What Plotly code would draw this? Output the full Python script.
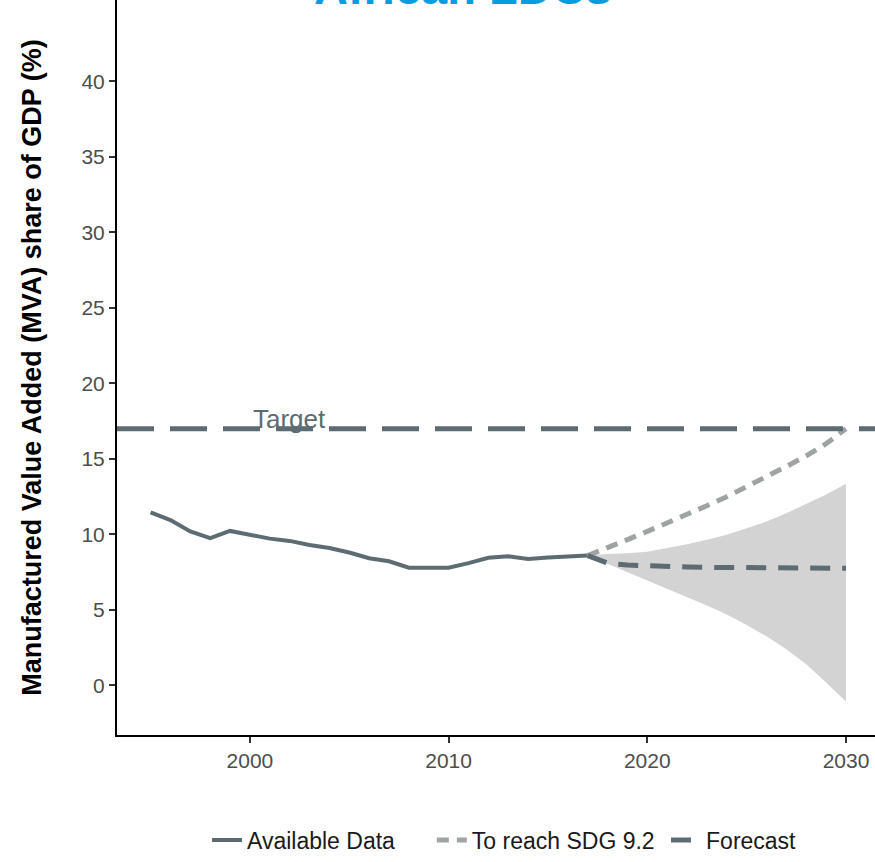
import plotly.graph_objects as go

# Observed manufacturing value added share of GDP (%)
hist_years = list(range(1995, 2018))
hist_mva = [11.46, 10.95, 10.20, 9.75, 10.23, 9.97, 9.72, 9.57, 9.30, 9.10,
            8.80, 8.42, 8.22, 7.80, 7.80, 7.80, 8.10, 8.45, 8.55, 8.38,
            8.47, 8.55, 8.60]

# Projection period
proj_years = list(range(2017, 2031))
forecast = [8.60, 8.10, 7.97, 7.90, 7.86, 7.84, 7.82, 7.80, 7.80, 7.79,
            7.78, 7.78, 7.77, 7.76]
forecast_upper = [8.60, 8.70, 8.75, 8.85, 9.10, 9.35, 9.65, 9.97, 10.40,
                  10.85, 11.40, 12.00, 12.65, 13.36]
forecast_lower = [8.60, 8.00, 7.50, 6.95, 6.40, 5.85, 5.30, 4.70, 4.00,
                  3.25, 2.40, 1.40, 0.20, -1.07]
sdg_path = [8.60, 9.10, 9.65, 10.20, 10.75, 11.30, 11.90, 12.50, 13.15,
            13.80, 14.50, 15.20, 16.00, 17.00]

TARGET = 17
x_ticks = [2000, 2010, 2020, 2030]
y_ticks = [0, 5, 10, 15, 20, 25, 30, 35, 40]

DARK = "#5d6c72"
LIGHT = "#9ea3a4"
BAND = "#d3d3d3"
FONT = "Liberation Sans, Arial, sans-serif"
NBSP = "\u00a0"

fig = go.Figure()

# Forecast uncertainty band
fig.add_trace(go.Scatter(
    x=proj_years + proj_years[::-1],
    y=forecast_upper + forecast_lower[::-1],
    fill="toself", fillcolor=BAND, line=dict(width=0),
    mode="lines", hoverinfo="skip", showlegend=False,
))

fig.add_trace(go.Scatter(
    x=hist_years, y=hist_mva, mode="lines", name="Available Data" + NBSP * 5,
    line=dict(color=DARK, width=4),
))
fig.add_trace(go.Scatter(
    x=proj_years, y=sdg_path, mode="lines", name="To reach SDG 9.2" + NBSP,
    line=dict(color=LIGHT, width=5, dash="12px,8px"),
))
fig.add_trace(go.Scatter(
    x=proj_years, y=forecast, mode="lines", name="Forecast",
    line=dict(color=DARK, width=5, dash="20px,12px"),
))

# Target level
fig.add_shape(type="line", xref="paper", x0=0, x1=1, yref="y",
              y0=TARGET, y1=TARGET,
              line=dict(color=DARK, width=5, dash="37px,16px"))
fig.add_annotation(x=2002, y=TARGET, xref="x", yref="y", text="Target",
                   showarrow=False, yanchor="bottom", yshift=-7,
                   font=dict(family=FONT, size=26, color=DARK))

# Title
fig.add_annotation(x=0.4565, y=1, xref="paper", yref="paper",
                   text="<b>African LDCs</b>", showarrow=False,
                   xanchor="center", yanchor="middle", yshift=13,
                   font=dict(family=FONT, size=47, color="#069de0"))

fig.update_xaxes(
    range=[1993.31, 2031.46], tickvals=x_ticks, showgrid=False,
    zeroline=False, showline=True, linecolor="black", linewidth=2,
    ticks="outside", ticklen=6, tickwidth=2, tickcolor="#333333",
    tickfont=dict(family=FONT, size=21, color="#4d4d4d"),
)
fig.update_yaxes(
    range=[-3.28, 45.38], tickvals=y_ticks, showgrid=False,
    zeroline=False, showline=True, linecolor="black", linewidth=2,
    ticks="outside", ticklen=6, tickwidth=2, tickcolor="#333333",
    tickfont=dict(family=FONT, size=21, color="#4d4d4d"),
    title=dict(text="<b>Manufactured Value Added (MVA) share of GDP (%)</b>",
               font=dict(family=FONT, size=27, color="black"),
               standoff=32),
)

fig.update_layout(
    width=875, height=862,
    margin=dict(l=117, r=0, t=0, b=120),
    paper_bgcolor="white", plot_bgcolor="white",
    legend=dict(orientation="h", x=0.1187, xanchor="left", y=-0.143,
                yanchor="middle", font=dict(family=FONT, size=23,
                                            color="#1a1a1a"),
                itemwidth=30),
)

fig.write_html("out.html")
